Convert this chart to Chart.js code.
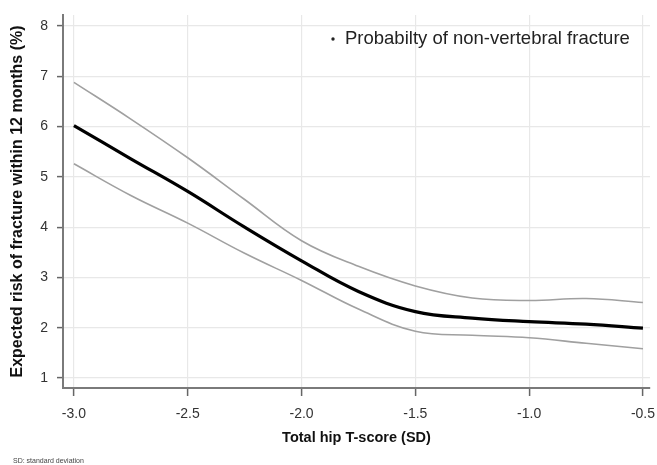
<!DOCTYPE html>
<html>
<head>
<meta charset="utf-8">
<script src="https://cdn.jsdelivr.net/npm/chart.js@4/dist/chart.umd.min.js"></script>
<style>
  html, body { margin: 0; padding: 0; background: #fff; }
  #wrap { position: relative; width: 657px; height: 465px; }
</style>
</head>
<body>
<div id="wrap"><canvas id="c" width="657" height="465"></canvas></div>
<script>
// T-score values (x) at which the curves were read
const tScores = [-3.0, -2.75, -2.5, -2.25, -2.0, -1.75, -1.5, -1.25, -1.0, -0.75, -0.5];
// Expected risk (%) – estimate and confidence bounds
const riskEstimate = [6.02, 5.36, 4.71, 4.00, 3.33, 2.72, 2.32, 2.19, 2.12, 2.07, 1.99];
const riskUpper    = [6.88, 6.15, 5.38, 4.55, 3.73, 3.22, 2.83, 2.59, 2.54, 2.58, 2.50];
const riskLower    = [5.26, 4.63, 4.08, 3.48, 2.94, 2.37, 1.93, 1.85, 1.80, 1.69, 1.58];
// Tick labels
const xTickValues = [-3.0, -2.5, -2.0, -1.5, -1.0, -0.5];
const yTickValues = [1, 2, 3, 4, 5, 6, 7, 8];
const legendText = "Probabilty of non-vertebral fracture";
const xTitle = "Total hip T-score (SD)";
const yTitle = "Expected risk of fracture within 12 months (%)";
const footnote = "SD: standard deviation";

const toPts = arr => tScores.map((x, i) => ({ x: x, y: arr[i] }));
const FONT = '"Liberation Sans", Arial, sans-serif';

const overlay = {
  id: 'overlay',
  afterDraw(chart) {
    const ctx = chart.ctx;
    ctx.save();
    ctx.fillStyle = '#222';
    ctx.beginPath();
    ctx.arc(333, 39, 1.7, 0, Math.PI * 2);
    ctx.fill();
    ctx.font = '18.5px ' + FONT;
    ctx.textBaseline = 'middle';
    ctx.textAlign = 'left';
    ctx.fillText(legendText, 345, 39);
    ctx.font = '7px ' + FONT;
    ctx.fillStyle = '#444';
    ctx.fillText(footnote, 13, 461);
    ctx.restore();
  }
};

const lineCommon = { pointRadius: 0, tension: 0.4, fill: false };

new Chart(document.getElementById('c'), {
  type: 'line',
  data: {
    datasets: [
      Object.assign({ label: 'Upper', data: toPts(riskUpper), borderColor: '#a0a0a0', borderWidth: 1.6 }, lineCommon),
      Object.assign({ label: 'Lower', data: toPts(riskLower), borderColor: '#a0a0a0', borderWidth: 1.6 }, lineCommon),
      Object.assign({ label: legendText, data: toPts(riskEstimate), borderColor: '#000', borderWidth: 3.2 }, lineCommon)
    ]
  },
  options: {
    responsive: false,
    devicePixelRatio: 1,
    animation: false,
    layout: { padding: { left: 0, right: 7, top: 15, bottom: 16 } },
    plugins: { legend: { display: false }, tooltip: { enabled: false } },
    scales: {
      x: {
        type: 'linear',
        min: -3.048, max: -0.469,
        afterBuildTicks: s => { s.ticks = xTickValues.map(v => ({ value: v })); },
        afterFit: s => { s.height = 465 - 16 - 388; s.paddingLeft = 0; s.paddingRight = 0; },
        ticks: {
          padding: 10,
          color: '#333',
          font: { family: FONT, size: 14 },
          callback: v => Number(v).toFixed(1)
        },
        grid: { color: '#e8e8e8', lineWidth: 1.2, tickLength: 8, tickColor: '#666', tickWidth: 1.5 },
        border: { color: '#7a7a7a', width: 2 },
        title: { display: true, text: xTitle, color: '#111', font: { family: FONT, size: 14.5, weight: 'bold' }, padding: { top: 0, bottom: 2 } }
      },
      y: {
        min: 0.8, max: 8.22,
        afterBuildTicks: s => { s.ticks = yTickValues.map(v => ({ value: v })); },
        afterFit: s => { s.width = 63; s.paddingTop = 0; s.paddingBottom = 0; },
        ticks: {
          padding: 9,
          color: '#333',
          font: { family: FONT, size: 14 }
        },
        grid: { color: '#e8e8e8', lineWidth: 1.2, tickLength: 6, tickColor: '#666', tickWidth: 1.5 },
        border: { color: '#7a7a7a', width: 2 },
        title: { display: true, text: yTitle, color: '#111', font: { family: FONT, size: 16, weight: 'bold' }, padding: { top: 8, bottom: 0 } }
      }
    }
  },
  plugins: [overlay]
});
</script>
</body>
</html>
